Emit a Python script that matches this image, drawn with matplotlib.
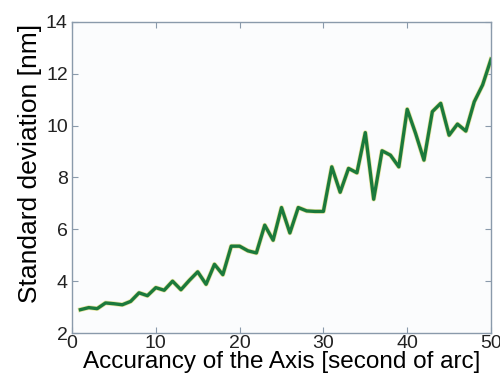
import matplotlib
matplotlib.use("Agg")
import numpy as np
import matplotlib.pyplot as plt

# Values
accuracy = np.arange(1, 51)
std_dev = np.array([
    2.90, 2.98, 2.94, 3.16, 3.13, 3.09, 3.22, 3.55, 3.44, 3.75,
    3.65, 4.00, 3.67, 4.03, 4.36, 3.88, 4.65, 4.25, 5.35, 5.35,
    5.17, 5.09, 6.16, 5.58, 6.84, 5.86, 6.84, 6.71, 6.69, 6.69,
    8.41, 7.43, 8.35, 8.18, 9.73, 7.16, 9.03, 8.86, 8.41, 10.63,
    9.70, 8.67, 10.54, 10.86, 9.63, 10.06, 9.79, 10.92, 11.57, 12.56
])

plt.rcParams['font.family'] = ['Liberation Sans', 'DejaVu Sans']
plt.rcParams['text.color'] = '#222222'
plt.rcParams['xtick.labelcolor'] = '#222222'
plt.rcParams['ytick.labelcolor'] = '#222222'

fig = plt.figure(figsize=(5, 3.78), dpi=100)
fig.patch.set_facecolor('white')
ax = fig.add_axes([0.144, 0.119, 0.838, 0.823])
ax.set_facecolor('#fbfcfd')

# thin yellowish halo under the green line, as in the scanned original
ax.plot(accuracy, std_dev, color='#e8e4a0', linewidth=3.4, solid_joinstyle='round')
ax.plot(accuracy, std_dev, color='#1b7a3c', linewidth=2.4, solid_joinstyle='round')

ax.set_xlim(0, 50)
ax.set_ylim(2, 14)
ax.set_xticks([0, 10, 20, 30, 40, 50])
ax.set_yticks([2, 4, 6, 8, 10, 12, 14])
ax.tick_params(direction='in', top=True, right=True, length=4, labelsize=14,
               color='#8a9aab', pad=3)
ax.tick_params(axis='x', pad=1.5)
for s in ax.spines.values():
    s.set_color('#8a9aab')
    s.set_linewidth(1.0)

ax.set_xlabel('Accurancy of the Axis [second of arc]', fontsize=17.5, labelpad=-1)
ax.set_ylabel('Standard deviation [nm]', fontsize=19)
ax.yaxis.set_label_coords(-0.072, 0.545)

fig.savefig('out.png', dpi=100)
